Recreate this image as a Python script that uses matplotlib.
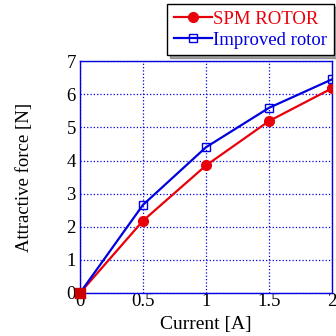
import matplotlib
matplotlib.use("Agg")
import matplotlib.pyplot as plt

# data
current = [0, 0.5, 1, 1.5, 2]
spm_force = [0, 2.18, 3.85, 5.19, 6.18]
improved_force = [0, 2.66, 4.40, 5.59, 6.45]

plt.rcParams["font.family"] = ["Liberation Serif", "DejaVu Serif"]

fig = plt.figure(figsize=(3.36, 3.36), dpi=100)
ax = fig.add_axes([0.238, 0.128, 0.750, 0.690])

ax.plot(current, spm_force, color="#e8000b", lw=1.6, marker="o", ms=7,
        label="SPM ROTOR", zorder=3)
ax.plot(current, improved_force, color="#0000e0", lw=1.6, marker="s", ms=6,
        mfc="none", mew=1.0, label="Improved rotor", zorder=4)
# filled square at origin as in reference
ax.plot([current[0]], [spm_force[0]], marker="s", ms=7, color="#cc0000",
        ls="none", zorder=5, clip_on=False)

ax.set_xlim(0, 2)
ax.set_ylim(0, 7)
ax.set_xticks([0, 0.5, 1, 1.5, 2])
ax.set_xticklabels(["0", "0.5", "1", "1.5", "2"])
ax.set_yticks(range(8))
ax.grid(True, color="#0000e0", ls=":", lw=0.9)
for s in ax.spines.values():
    s.set_color("#0000e0")
    s.set_linewidth(1.0)
ax.tick_params(direction="in", length=0, labelsize=13.5, pad=0,
               colors="black")
ax.tick_params(axis="y", pad=3)

ax.set_xlabel("Current [A]", fontsize=14, labelpad=4)
ax.set_ylabel("Attractive force [N]", fontsize=13.5, labelpad=24)

leg = ax.legend(loc="lower right", bbox_to_anchor=(1.008, 1.026),
                fontsize=13.5, frameon=True, fancybox=False, shadow=True,
                handlelength=2.0, handletextpad=0.1, borderpad=0.35,
                labelspacing=0.2, borderaxespad=0.0)
leg.get_frame().set_edgecolor("black")
leg.get_frame().set_linewidth(1.0)
for text, line in zip(leg.get_texts(), leg.get_lines()):
    text.set_color(line.get_color())

fig.savefig("out.png", dpi=100)
